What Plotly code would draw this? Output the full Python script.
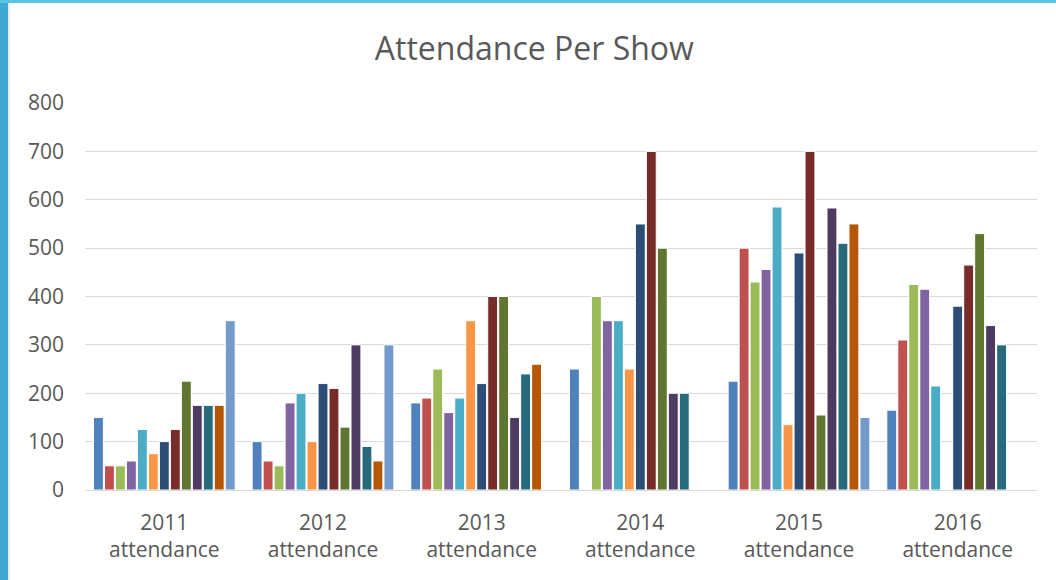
import plotly.graph_objects as go

years = ['2011<br>attendance', '2012<br>attendance', '2013<br>attendance',
         '2014<br>attendance', '2015<br>attendance', '2016<br>attendance']

show_names = ['Show 1', 'Show 2', 'Show 3', 'Show 4', 'Show 5', 'Show 6', 'Show 7',
              'Show 8', 'Show 9', 'Show 10', 'Show 11', 'Show 12', 'Show 13']

# one list per show, values for 2011..2016 (None = no show that year)
show_1 = [150, 100, 180, 250, 225, 165]
show_2 = [50, 60, 190, None, 500, 310]
show_3 = [50, 50, 250, 400, 430, 425]
show_4 = [60, 180, 160, 350, 456, 415]
show_5 = [125, 200, 190, 350, 585, 215]
show_6 = [75, 100, 350, 250, 135, None]
show_7 = [100, 220, 220, 550, 490, 380]
show_8 = [125, 210, 400, 700, 700, 465]
show_9 = [225, 130, 400, 500, 155, 530]
show_10 = [175, 300, 150, 200, 583, 340]
show_11 = [175, 90, 240, 200, 510, 300]
show_12 = [175, 60, 260, None, 550, None]
show_13 = [350, 300, None, None, 150, None]

colors = ['#4F81BD', '#C0504D', '#9BBB59', '#8064A2', '#4BACC6', '#F79646', '#2C4D75',
          '#772C2A', '#5F7530', '#4D3B62', '#276A7C', '#B65708', '#729ACA']

all_shows = [show_1, show_2, show_3, show_4, show_5, show_6, show_7,
             show_8, show_9, show_10, show_11, show_12, show_13]

font_family = 'Open Sans, Noto Sans, sans-serif'
grey_text = '#595959'

fig = go.Figure()
for name, vals, col in zip(show_names, all_shows, colors):
    fig.add_trace(go.Bar(
        x=years,
        y=vals,
        name=name,
        marker=dict(color=col, line=dict(color='white', width=1))
    ))

fig.update_layout(
    width=1056,
    height=580,
    barmode='group',
    bargap=0.1,
    bargroupgap=0.1,
    showlegend=False,
    plot_bgcolor='white',
    paper_bgcolor='white',
    margin=dict(l=85, r=19, t=103, b=90),
    title=dict(
        text='Attendance Per Show',
        x=0.506,
        xanchor='center',
        y=0.916,
        yanchor='middle',
        font=dict(family=font_family, size=32, color=grey_text)
    ),
    xaxis=dict(
        showgrid=False,
        showline=False,
        tickfont=dict(family=font_family, size=21, color=grey_text),
        ticklabelstandoff=18
    ),
    yaxis=dict(
        range=[0, 800],
        dtick=100,
        showgrid=True,
        gridcolor='#D9D9D9',
        gridwidth=1,
        zeroline=True,
        zerolinecolor='#D9D9D9',
        zerolinewidth=1,
        tickfont=dict(family=font_family, size=21, color=grey_text),
        ticklabelstandoff=20
    ),
    shapes=[
        # cyan selection frame of the original screenshot
        dict(type='rect', xref='paper', yref='paper',
             x0=-85 / 952, x1=-77 / 952, y0=-90 / 387, y1=490 / 387,
             fillcolor='#3FA9D0', line=dict(width=0), layer='above'),
        dict(type='rect', xref='paper', yref='paper',
             x0=-85 / 952, x1=1 + 19 / 952, y0=1 + 100 / 387, y1=1 + 103 / 387,
             fillcolor='#5BC4E4', line=dict(width=0), layer='above'),
        dict(type='line', xref='paper', yref='paper',
             x0=-76 / 952, x1=-76 / 952, y0=-90 / 387, y1=1 + 100 / 387,
             line=dict(color='#D0D0D0', width=1), layer='above'),
    ]
)

# drop the default page margin so the figure sits at the window corner
fig.write_html('out.html', config={'displayModeBar': False},
               post_script="document.body.style.margin='0';")
